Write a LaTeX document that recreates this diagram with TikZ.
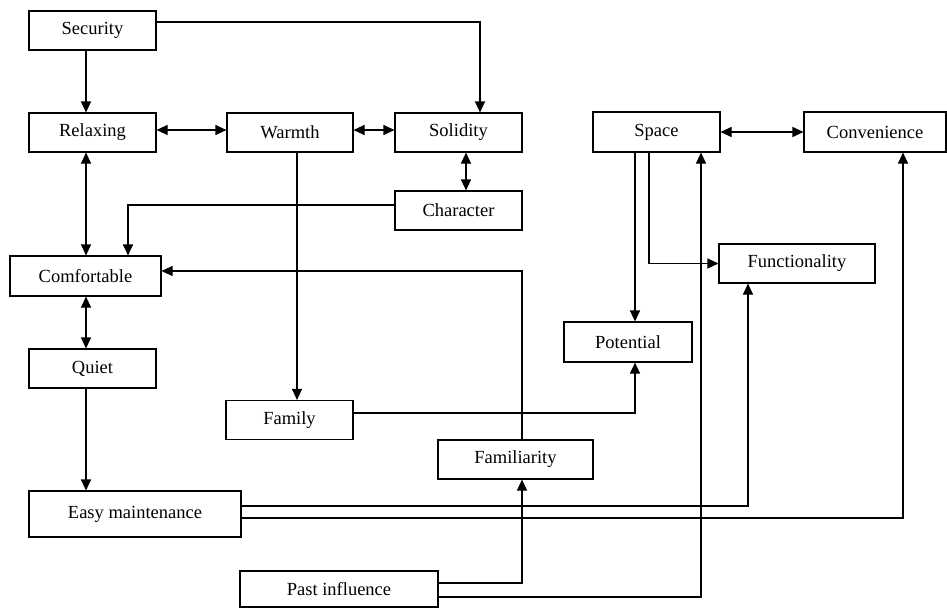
\documentclass[tikz,border=0pt]{standalone}
\usepackage{fontspec}
\setmainfont{Liberation Serif}
\usetikzlibrary{arrows.meta, positioning}

\begin{document}
\begin{tikzpicture}[x=1pt, y=-1pt, line width=1.1pt, >={Triangle[length=11pt, width=10pt]},
		font=\fontsize{18.5pt}{20pt}\selectfont,
		box/.style={draw, rectangle, minimum height=39pt, minimum width=127pt, inner sep=2pt}]
		\useasboundingbox (0, 0) rectangle (947, 608);
		\node[box] (security) at (92.5, 30.5) {Security};
		\node[box] (relaxing) at (92.5, 132.5) {Relaxing};
		\node[box, minimum width=126pt] (warmth) at (290, 132.5) {Warmth};
		\node[box] (solidity) at (458.5, 132.5) {Solidity};
		\node[box] (character) at (458.5, 210.5) {Character};
		\node[box, minimum width=151pt, minimum height=40pt] (comfortable) at (85.5, 276) {Comfortable};
		\node[box] (quiet) at (92.5, 368.5) {Quiet};
		\node[box] (family) at (289.5, 420) {Family};
		\node[box, minimum width=212pt, minimum height=46pt] (easy-maint) at (135, 514) {Easy maintenance};
		\node[box, minimum width=198pt, minimum height=36pt] (past-infl) at (339, 589) {Past influence};
		\node[box, minimum width=155pt] (familiarity) at (515.5, 459.5) {Familiarity};
		\node[box, minimum width=128pt, minimum height=40pt] (potential) at (628, 342) {Potential};
		\node[box, minimum height=40pt] (space) at (656.5, 132) {Space};
		\node[box, minimum width=142pt, minimum height=40pt] (convenience) at (875, 132) {Convenience};
		\node[box, minimum width=156pt] (functionality) at (797, 263.5) {Functionality};
		% left column
		\path [draw, ->] ([yshift=8.5pt]security.east) -| ([xshift=21.5pt]solidity.north);
		\path [draw, ->] ([xshift=-6.5pt]security.south) -- ([xshift=-6.5pt]relaxing.north);
		\path [draw, <->] ([yshift=2.5pt]relaxing.east) -- ([yshift=2.5pt]warmth.west);
		\path [draw, <->] ([yshift=2.5pt]warmth.east) -- ([yshift=2.5pt]solidity.west);
		\path [draw, <->] ([xshift=7.5pt]solidity.south) -- ([xshift=7.5pt]character.north);
		\path [draw, ->] ([yshift=5.5pt]character.west) -| ([xshift=42.5pt]comfortable.north);
		\path [draw, <->] ([xshift=-6.5pt]relaxing.south) -- ([xshift=-6.5pt]relaxing.south |- comfortable.north);
		\path [draw, ->] ([xshift=7pt]warmth.south) -- ([xshift=7pt]warmth.south |- family.north);
		\path [draw, <->] ([xshift=-6.5pt]quiet.north |- comfortable.south) -- ([xshift=-6.5pt]quiet.north);
		\path [draw, ->] ([xshift=-6.5pt]quiet.south) -- ([xshift=-6.5pt]quiet.south |- easy-maint.north);
		\path [draw, ->] ([xshift=6.5pt]familiarity.north) |- ([yshift=5pt]comfortable.east);
		% right part
		\path [draw, ->] ([yshift=7pt]family.east) -| ([xshift=7pt]potential.south);
		\path [draw, ->] ([xshift=-21.5pt]space.south) -- ([xshift=-21.5pt]space.south |- potential.north);
		\path [draw, ->] ([xshift=-7.5pt]space.south) |- (functionality.west);
		\path [draw, <->] (space.east) -- (convenience.west);
		\path [draw, ->] ([yshift=8pt]easy-maint.east) -| ([xshift=-49pt]functionality.south);
		\path [draw, ->] ([yshift=-4pt]easy-maint.east) -| ([xshift=28pt]convenience.south);
		\path [draw, ->] ([yshift=6pt]past-infl.east) -| ([xshift=6.5pt]familiarity.south);
		\path [draw, ->] ([yshift=-8pt]past-infl.east) -| ([xshift=44.5pt]space.south);
\end{tikzpicture}
\end{document}
